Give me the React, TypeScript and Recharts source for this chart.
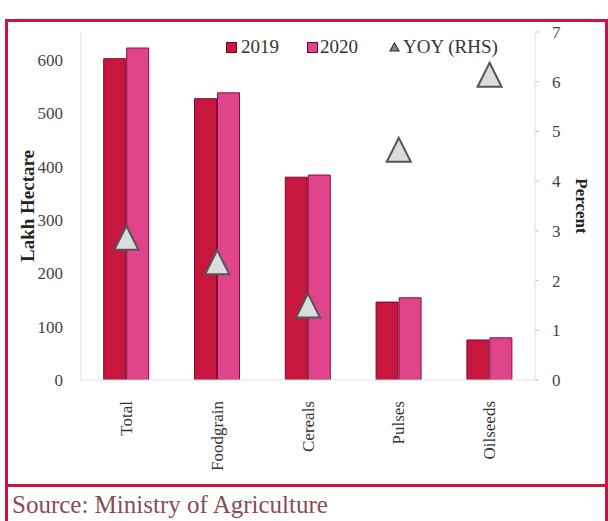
import {
  ComposedChart,
  Bar,
  Scatter,
  XAxis,
  YAxis,
} from 'recharts';

const categories = ['Total', 'Foodgrain', 'Cereals', 'Pulses', 'Oilseeds'];
const area2019 = [602, 527, 380, 146, 75];
const area2020 = [622, 538, 384, 154, 79];
const yoy = [2.86, 2.37, 1.5, 4.63, 6.14];
const leftTicks = [0, 100, 200, 300, 400, 500, 600];
const rightTicks = [0, 1, 2, 3, 4, 5, 6, 7];

const data = categories.map((name, i) => ({
  name,
  y2019: area2019[i],
  y2020: area2020[i],
  yoy: yoy[i],
}));

const FONT = '"Liberation Serif", "Times New Roman", serif';
const RED = '#c8173f';
const PINK = '#e0448a';

const Triangle = (props: any) => {
  const { cx, cy } = props;
  if (cx == null || cy == null) return null;
  const w = 12;
  const h = 12;
  return (
    <path
      d={`M${cx},${cy - h} L${cx + w},${cy + h} L${cx - w},${cy + h} Z`}
      fill="#dcdcdc"
      stroke="#555"
      strokeWidth={2}
    />
  );
};

const XTick = (props: any) => {
  const { x, y, payload } = props;
  return (
    <text
      x={x}
      y={y + 13}
      transform={`rotate(-90, ${x}, ${y + 13})`}
      textAnchor="end"
      dominantBaseline="central"
      fontFamily={FONT}
      fontSize={17}
      fill="#333"
    >
      {payload.value}
    </text>
  );
};

const swatch = (color: string) => ({
  display: 'inline-block',
  width: 9,
  height: 9,
  background: color,
  border: '1px solid #6a0a20',
});

// legend drawn as an overlay so it doesn't push the plot area down
const LegendBox = () => (
  <div
    style={{
      position: 'absolute',
      top: 36,
      left: 0,
      height: 22,
      fontFamily: FONT,
      fontSize: 19,
      color: '#333',
      lineHeight: '22px',
    }}
  >
    <span style={{ position: 'absolute', left: 226, top: 0, display: 'flex', alignItems: 'center' }}>
      <span style={{ ...swatch(RED), marginRight: 4 }} />
      2019
    </span>
    <span style={{ position: 'absolute', left: 307, top: 0, display: 'flex', alignItems: 'center' }}>
      <span style={{ ...swatch(PINK), marginRight: 2 }} />
      2020
    </span>
    <span style={{ position: 'absolute', left: 389, top: 0, display: 'flex', alignItems: 'center', whiteSpace: 'nowrap' }}>
      <svg width={11} height={10} style={{ marginRight: 3 }}>
        <path d="M5.5,1 L10,9 L1,9 Z" fill="#888" stroke="#333" strokeWidth={1.2} />
      </svg>
      YOY (RHS)
    </span>
  </div>
);

export default function App() {
  return (
    <div
      style={{
        position: 'absolute',
        left: 0,
        top: 0,
        width: 608,
        height: 521,
        background: '#fff',
        fontFamily: FONT,
        overflow: 'hidden',
      }}
    >
      <div
        style={{
          position: 'absolute',
          left: 5,
          top: 19,
          width: 597,
          height: 462,
          border: `3px solid ${RED}`,
        }}
      />
      <div
        style={{
          position: 'absolute',
          left: 5,
          top: 486,
          width: 597,
          height: 40,
          borderLeft: `3px solid ${RED}`,
          borderRight: `3px solid ${RED}`,
        }}
      />
      <div style={{ position: 'absolute', left: 0, top: 0 }}>
        <ComposedChart
          width={608}
          height={480}
          data={data}
          margin={{ top: 32, right: 0, left: 0, bottom: 0 }}
          barCategoryGap="25%"
          barGap={1}
        >
          <XAxis
            dataKey="name"
            height={100}
            tick={<XTick />}
            tickLine={false}
            axisLine={{ stroke: '#e2e2e2' }}
            interval={0}
          />
          <YAxis
            yAxisId="left"
            width={81}
            domain={[0, 652]}
            ticks={leftTicks}
            allowDataOverflow
            tick={{ fontFamily: FONT, fontSize: 17, fill: '#444' }}
            tickLine={false}
            axisLine={{ stroke: '#e2e2e2' }}
            tickMargin={12}
            label={{
              value: 'Lakh Hectare',
              angle: -90,
              position: 'center',
              dx: -13,
              style: { fontFamily: FONT, fontSize: 19, fontWeight: 'bold', fill: '#222' },
            }}
          />
          <YAxis
            yAxisId="right"
            orientation="right"
            width={73}
            domain={[0, 7]}
            ticks={rightTicks}
            tick={{ fontFamily: FONT, fontSize: 17, fill: '#444' }}
            tickLine={{ stroke: '#ccc' }}
            tickSize={4}
            axisLine={{ stroke: '#e2e2e2' }}
            tickMargin={13}
            label={{
              value: 'Percent',
              angle: 90,
              position: 'center',
              dx: 11,
              style: { fontFamily: FONT, fontSize: 17, fontWeight: 'bold', fill: '#222' },
            }}
          />
          <Bar
            yAxisId="left"
            dataKey="y2019"
            name="2019"
            fill={RED}
            stroke="#7a0c25"
            strokeWidth={1}
            isAnimationActive={false}
          />
          <Bar
            yAxisId="left"
            dataKey="y2020"
            name="2020"
            fill={PINK}
            stroke="#8a1040"
            strokeWidth={1}
            isAnimationActive={false}
          />
          <Scatter
            yAxisId="right"
            dataKey="yoy"
            name="YOY (RHS)"
            shape={<Triangle />}
            isAnimationActive={false}
          />
        </ComposedChart>
      </div>
      <LegendBox />
      <div
        style={{
          position: 'absolute',
          left: 12,
          top: 491,
          fontFamily: FONT,
          fontSize: 25,
          color: '#8a4a5a',
          whiteSpace: 'nowrap',
        }}
      >
        Source: Ministry of Agriculture
      </div>
    </div>
  );
}
